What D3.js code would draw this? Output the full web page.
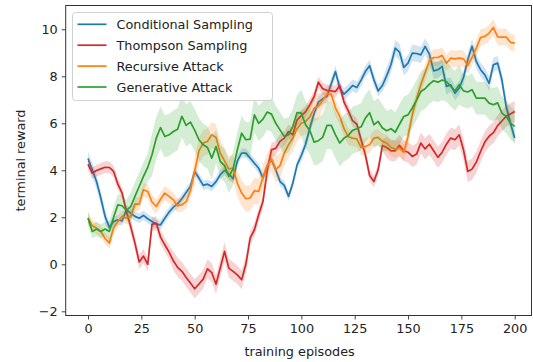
<!DOCTYPE html>
<html>
<head>
<meta charset="utf-8">
<script src="https://cdn.jsdelivr.net/npm/d3@7"></script>
<style>
  html, body { margin: 0; padding: 0; background: #fff; }
  svg { display: block; font-family: "DejaVu Sans", sans-serif; }
</style>
</head>
<body>
<svg id="chart" width="533" height="362"></svg>
<script>
// Training episodes sampled every 2 episodes
const episodes = d3.range(0, 201, 2);

const seriesNames = ["Conditional Sampling", "Thompson Sampling", "Recursive Attack", "Generative Attack"];
const seriesColors = ["#1f77b4", "#d62728", "#ff7f0e", "#2ca02c"];

const conditionalSampling = [
  4.5, 4.02, 3.52, 2.82, 2.04, 1.57, 1.82, 1.89, 1.85, 2.32,
  2.18, 2.04, 1.96, 2.08, 1.94, 1.82, 1.71, 1.68, 1.96, 2.22,
  2.43, 2.57, 2.79, 3.06, 3.31, 3.95, 3.67, 3.36, 3.41, 3.31,
  3.52, 3.81, 4.0, 3.85, 3.64, 4.4, 4.73, 4.73, 4.52, 4.3,
  4.09, 3.67, 4.19, 4.45, 4.02, 3.52, 3.36, 2.89, 3.45, 4.23,
  4.63, 5.11, 5.8, 6.43, 6.9, 7.04, 7.14, 7.68, 8.2, 7.5,
  7.24, 7.41, 7.61, 7.52, 7.84, 8.2, 8.45, 7.85, 7.38, 7.61,
  8.03, 8.49, 9.2, 9.03, 8.38, 8.56, 8.99, 8.97, 8.91, 9.27,
  8.94, 8.23, 8.28, 8.42, 7.57, 7.64, 7.28, 7.5, 7.95, 8.7,
  9.28, 8.63, 8.28, 8.06, 7.7, 8.49, 8.56, 7.85, 6.72, 6.0,
  5.37
];

const thompsonSampling = [
  4.26, 3.88, 3.99, 4.06, 4.13, 4.12, 3.95, 3.41, 3.03, 2.25,
  1.61, 0.9, 0.1, 0.35, 0.0, 1.7, 1.75, 1.16, 0.83, 0.52,
  0.15, -0.13, -0.3, -0.56, -0.8, -1.04, -0.84, -0.63, -0.19, -0.35,
  -0.85, -0.16, 0.55, -0.16, -0.3, -0.45, -0.66, 0.0, 1.11, 1.47,
  2.11, 2.67, 3.98, 4.87, 4.94, 5.23, 5.37, 5.65, 5.51, 6.15,
  6.33, 6.5, 6.79, 7.14, 7.75, 7.47, 7.4, 7.38, 7.35, 7.6,
  6.9, 6.53, 6.11, 5.96, 5.3, 4.66, 3.78, 3.52, 4.02, 5.06,
  4.97, 4.83, 4.83, 5.06, 4.83, 4.77, 4.59, 4.69, 5.16, 4.91,
  5.11, 4.83, 4.55, 4.77, 5.11, 5.37, 5.3, 5.51, 4.87, 3.95,
  4.05, 4.35, 4.8, 5.2, 5.45, 5.6, 5.9, 6.1, 6.3, 6.4,
  6.5
];

const recursiveAttack = [
  1.97, 1.64, 1.54, 1.4, 1.1, 0.9, 1.54, 1.82, 2.04, 1.97,
  2.04, 2.56, 2.56, 3.17, 3.1, 2.65, 2.46, 2.77, 3.03, 2.89,
  2.74, 2.5, 2.53, 2.67, 3.13, 3.95, 4.83, 5.16, 5.23, 5.51,
  5.4, 4.73, 4.4, 4.06, 4.09, 3.45, 3.03, 2.79, 2.82, 3.13,
  3.1, 3.7, 4.16, 4.49, 4.03, 4.2, 4.73, 5.09, 5.37, 5.77,
  6.0, 6.08, 6.28, 6.65, 6.73, 6.96, 7.24, 7.24, 6.65, 6.29,
  5.77, 5.43, 5.37, 5.34, 4.97, 5.01, 5.09, 5.37, 5.4, 5.23,
  5.16, 4.97, 4.9, 4.94, 4.76, 5.44, 6.36, 7.04, 7.64, 8.15,
  8.66, 8.8, 8.8, 8.89, 8.56, 8.77, 8.74, 8.77, 8.74, 8.46,
  8.8, 9.2, 9.65, 9.7, 9.84, 10.08, 9.68, 9.67, 9.67, 9.45,
  9.41
];

const generativeAttack = [
  1.96, 1.4, 1.5, 1.4, 1.5, 1.4, 2.0, 2.53, 2.49, 2.29,
  2.45, 2.89, 3.31, 3.74, 4.12, 4.66, 5.37, 5.82, 5.44, 5.51,
  5.65, 5.75, 6.3, 5.91, 6.05, 5.71, 5.3, 5.09, 4.97, 4.52,
  5.01, 4.38, 4.2, 3.74, 4.06, 4.87, 5.58, 5.3, 5.33, 6.36,
  6.0, 6.18, 6.48, 6.39, 6.0, 5.72, 5.44, 5.51, 5.87, 6.46,
  6.43, 5.94, 5.68, 5.2, 5.26, 5.4, 5.91, 5.91, 5.51, 5.16,
  5.37, 5.48, 5.7, 5.77, 5.85, 6.22, 6.45, 5.94, 6.08, 5.8,
  5.68, 5.77, 5.62, 5.96, 6.29, 6.36, 6.65, 6.99, 7.35, 7.47,
  7.67, 7.81, 7.75, 7.84, 7.78, 7.57, 7.38, 7.64, 7.38, 7.33,
  7.43, 7.07, 7.07, 7.07, 6.86, 6.79, 6.87, 6.43, 6.29, 6.01,
  5.87
];

// Half-width of the shaded spread: [starting episode, half-width]
const conditionalBand = [[0, 0.3], [10, 0.2], [100, 0.25], [140, 0.35], [170, 0.3]];
const thompsonBand    = [[0, 0.25], [20, 0.3], [40, 0.4], [76, 0.3], [100, 0.25], [140, 0.45]];
const recursiveBand   = [[0, 0.25], [20, 0.3], [50, 0.55], [110, 0.35]];
const generativeBand  = [[0, 0.3], [10, 0.45], [20, 0.6], [30, 0.9], [60, 0.7], [70, 0.75], [100, 1.0], [140, 0.85], [176, 0.7]];

const xTicks = [0, 25, 50, 75, 100, 125, 150, 175, 200];
const yTicks = [-2, 0, 2, 4, 6, 8, 10];

const seriesValues = [conditionalSampling, thompsonSampling, recursiveAttack, generativeAttack];
const seriesBands = [conditionalBand, thompsonBand, recursiveBand, generativeBand];

const FONT = "12.8px";
const svg = d3.select("#chart");
const plot = { left: 65.7, right: 531.5, top: 5.5, bottom: 315.5 };

const x = d3.scaleLinear().domain([0, 200]).range([88, 514.7]);
const y = d3.scaleLinear().domain([0, 10]).range([264.3, 29.3]);

function halfWidth(band, ep) {
  let w = band[0][1];
  for (const [start, v] of band) if (ep >= start) w = v;
  return w;
}

svg.append("clipPath").attr("id", "plotclip")
  .append("rect")
  .attr("x", plot.left).attr("y", plot.top)
  .attr("width", plot.right - plot.left).attr("height", plot.bottom - plot.top);

const g = svg.append("g").attr("clip-path", "url(#plotclip)");

seriesValues.forEach((vals, i) => {
  const rows = episodes.map((ep, k) => ({ ep, v: vals[k], w: halfWidth(seriesBands[i], ep) }));
  const area = d3.area()
    .x(d => x(d.ep))
    .y0(d => y(d.v - d.w))
    .y1(d => y(d.v + d.w));
  const line = d3.line().x(d => x(d.ep)).y(d => y(d.v));
  g.append("path").datum(rows)
    .attr("d", area)
    .attr("fill", seriesColors[i])
    .attr("fill-opacity", 0.2)
    .attr("stroke", "none");
  g.append("path").datum(rows)
    .attr("d", line)
    .attr("fill", "none")
    .attr("stroke", seriesColors[i])
    .attr("stroke-width", 1.7)
    .attr("stroke-linejoin", "round");
});

// Axes
const xAxis = d3.axisBottom(x).tickValues(xTicks).tickSize(4).tickPadding(4);
const yAxis = d3.axisLeft(y).tickValues(yTicks).tickSize(4).tickPadding(4)
  .tickFormat(d => d < 0 ? "\u2212" + Math.abs(d) : d);

const gx = svg.append("g").attr("transform", `translate(0,${plot.bottom})`).call(xAxis);
const gy = svg.append("g").attr("transform", `translate(${plot.left},0)`).call(yAxis);
[gx, gy].forEach(a => {
  a.select(".domain").remove();
  a.selectAll(".tick line").attr("stroke", "#333").attr("stroke-width", 0.9);
  a.selectAll(".tick text").attr("fill", "#222")
    .style("font-size", FONT).style("font-family", "DejaVu Sans, sans-serif");
});

// Frame
svg.append("rect")
  .attr("x", plot.left).attr("y", plot.top)
  .attr("width", plot.right - plot.left).attr("height", plot.bottom - plot.top)
  .attr("fill", "none").attr("stroke", "#333").attr("stroke-width", 1);

// Axis titles
svg.append("text")
  .attr("x", (plot.left + plot.right) / 2 + 1).attr("y", 356)
  .attr("text-anchor", "middle").attr("fill", "#222")
  .style("font-size", FONT)
  .text("training episodes");

svg.append("text")
  .attr("transform", `translate(25,${(plot.top + plot.bottom) / 2}) rotate(-90)`)
  .attr("text-anchor", "middle").attr("fill", "#222")
  .style("font-size", FONT)
  .text("terminal reward");

// Legend
const legend = svg.append("g").attr("transform", "translate(72.5,12.5)");
legend.append("rect")
  .attr("width", 200).attr("height", 88).attr("rx", 3)
  .attr("fill", "#fff").attr("fill-opacity", 0.85)
  .attr("stroke", "#d0d0d0").attr("stroke-width", 1);
seriesNames.forEach((name, i) => {
  const yy = 11.8 + i * 20.9;
  legend.append("line")
    .attr("x1", 5).attr("x2", 34).attr("y1", yy).attr("y2", yy)
    .attr("stroke", seriesColors[i]).attr("stroke-width", 1.7);
  legend.append("text")
    .attr("x", 44).attr("y", yy).attr("dy", "0.36em")
    .attr("fill", "#222").style("font-size", FONT)
    .text(name);
});
</script>
</body>
</html>
